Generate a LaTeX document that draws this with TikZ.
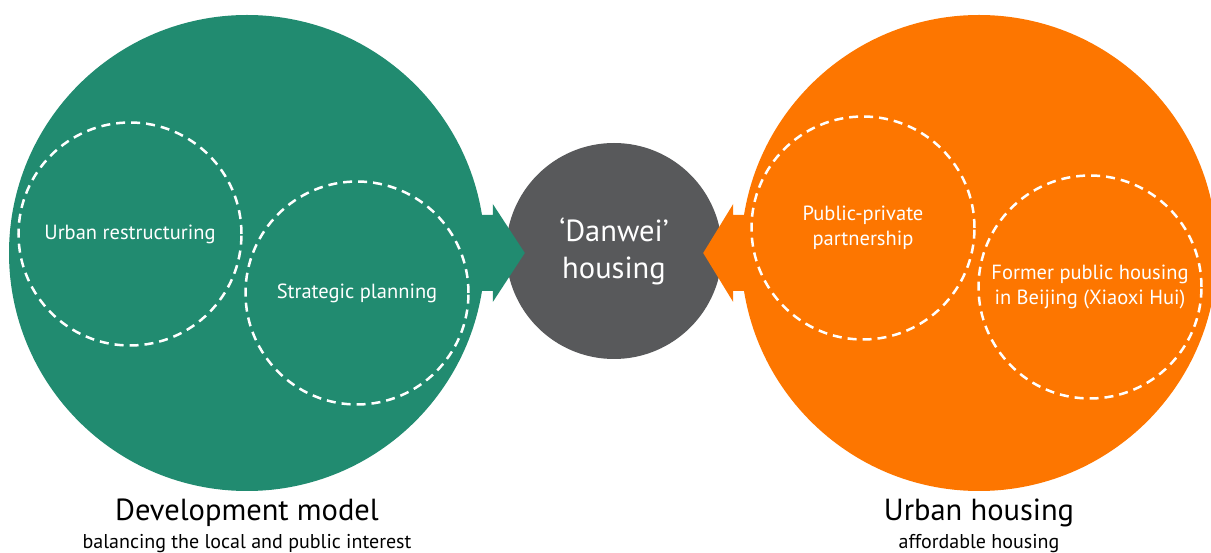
\documentclass[tikz,border=0pt]{standalone}
\usepackage{fontspec}
\setmainfont{PT Sans}
\usepackage{tikz}
\usetikzlibrary{calc}

\definecolor{devgreen}{RGB}{33,139,112}
\definecolor{housorange}{RGB}{253,118,0}
\definecolor{danweigrey}{RGB}{88,89,91}

\tikzset{
  bigcircle/.style={shape=circle, inner sep=0pt, minimum size=476pt},
  subcircle/.style={shape=circle, draw=white, line width=2.5pt, dash pattern=on 9pt off 6pt,
    minimum size=223pt, inner sep=0pt, text=white, align=center,
    font=\fontsize{20.5}{25}\selectfont},
  title/.style={font=\fontsize{30.5}{34}\selectfont, anchor=base},
  subtitle/.style={font=\fontsize{20}{24}\selectfont, anchor=base}
}

\begin{document}
\begin{tikzpicture}[x=1pt, y=1pt]
    \clip (0,0) rectangle (1211,552);
    \node[bigcircle, fill=devgreen] at (247,299) (dev) {};
    \node[bigcircle, fill=housorange] at (979,299) (hous) {};
    \node[shape=circle, fill=danweigrey, minimum size=216pt, inner sep=0pt, text=white,
      align=center, font=\fontsize{30.5}{37}\selectfont] at (614,301) (danwei) {‘Danwei’\\housing};
    % block arrows into the centre
    \fill[devgreen] ($(dev.center)+(0,38)$) -- ($(danwei.west)+(-13,36)$) -- ++(0,11)
      -- ($(danwei.west)+(19,-2)$) -- ($(danwei.west)+(-13,-51)$) -- ++(0,11)
      -- ($(dev.center)+(0,-38)$) -- cycle;
    \fill[housorange] ($(hous.center)+(0,38)$) -- ($(danwei.east)+(11,36)$) -- ++(0,11)
      -- ($(danwei.east)+(-19,-2)$) -- ($(danwei.east)+(11,-51)$) -- ++(0,11)
      -- ($(hous.center)+(0,-38)$) -- cycle;
    \node[subcircle] at (130,318) (urb) {Urban restructuring};
    \node[subcircle] at (357,259) (strat) {Strategic planning};
    \node[subcircle] at (863,324) (ppp) {Public-private\\partnership};
    \node[subcircle] at (1090,265) (former) {Former public housing\\in Beijing (Xiaoxi Hui)};
    \node[title] at (247,31) (devtitle) {Development model};
    \node[subtitle] at (247,4) (devsub) {balancing the local and public interest};
    \node[title] at (979,31) (houstitle) {Urban housing};
    \node[subtitle] at (979,4) (houssub) {affordable housing};
\end{tikzpicture}
\end{document}
